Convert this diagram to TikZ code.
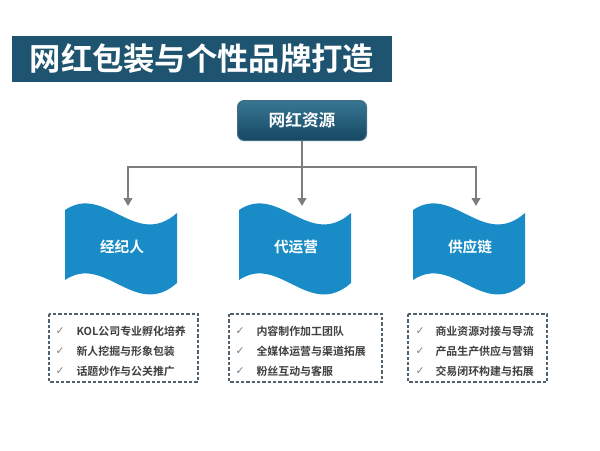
\documentclass[tikz,border=0pt]{standalone}
\usepackage{fontspec}
\setmainfont{Noto Sans CJK SC}[BoldFont={Noto Sans CJK SC Bold}]
\newfontfamily\symfont{DejaVu Sans}
\usetikzlibrary{arrows.meta}

\definecolor{titleblue}{RGB}{31,84,112}
\definecolor{srctop}{RGB}{56,118,146}
\definecolor{srcbot}{RGB}{22,72,100}
\definecolor{wavefill}{RGB}{25,140,199}
\definecolor{linkgray}{RGB}{125,125,125}
\definecolor{boxline}{RGB}{80,98,112}
\definecolor{itemtext}{RGB}{64,64,64}

\tikzset{every picture/.style={line width=0.75pt}}
\tikzset{
  link/.style={draw=linkgray, line width=1.7pt},
  wavetext/.style={text=white, font=\bfseries\fontsize{11}{13}\selectfont, inner sep=0.75pt},
  itembox/.style={draw=boxline, line width=1pt, dash pattern=on 2.5pt off 1.5pt},
  item/.style={anchor=west, inner sep=0.75pt, text=itemtext, font=\bfseries\fontsize{8.2}{10}\selectfont},
  tick/.style={anchor=center, inner sep=0pt, text=linkgray, font=\symfont\fontsize{8}{10}\selectfont}
}

\begin{document}
\begin{tikzpicture}[x=0.75pt,y=0.75pt,yscale=-1,xscale=1]
\useasboundingbox (0,0) rectangle (600,450);
\fill[white] (0,0) rectangle (600,450);
%Shape: Rectangle [id:title]
\fill[titleblue] (12,36) rectangle (392,82);
% Text Node
\draw (202,59) node (title) [inner sep=0.75pt, text=white] {\bfseries\fontsize{23.5}{27}\selectfont 网红包装与个性品牌打造};

%Shape: Rounded Rect [id:src]
\draw (237,100) node (src) [anchor=north west, minimum width=129*0.75pt, minimum height=40*0.75pt, rounded corners=5pt, top color=srctop, bottom color=srcbot, draw=srcbot!80!white, text=white] {};
\draw (src.center) node (srctxt) [inner sep=0.75pt, text=white] {\bfseries\fontsize{12.5}{15}\selectfont 网红资源};

%Shape: Wave [id:w1]
\fill[wavefill] (65,210) .. controls (105,183) and (135,250) .. (177,213) -- (177,283) .. controls (135,320) and (105,253) .. (65,280) -- cycle ;
%Shape: Wave [id:w2]
\fill[wavefill] (239,210) .. controls (279,183) and (309,250) .. (351,213) -- (351,283) .. controls (309,320) and (279,253) .. (239,280) -- cycle ;
%Shape: Wave [id:w3]
\fill[wavefill] (413,210) .. controls (453,183) and (483,250) .. (525,213) -- (525,283) .. controls (483,320) and (453,253) .. (413,280) -- cycle ;

% Text Node
\draw (122,247) node (agent) [wavetext] {经纪人};
% Text Node
\draw (296,247) node (ops) [wavetext] {代运营};
% Text Node
\draw (470,247) node (supply) [wavetext] {供应链};

%Connectors
\coordinate (split) at (302,167);
\coordinate (in1) at (128,206);
\coordinate (in2) at (302,206);
\coordinate (in3) at (476,206);
\draw [link] (src.south) -- (split);
\draw [link, -{Triangle[length=6pt, width=6.5pt]}] (split) -| (in1);
\draw [link, -{Triangle[length=6pt, width=6.5pt]}] (split) -- (in2);
\draw [link, -{Triangle[length=6pt, width=6.5pt]}] (split) -| (in3);

%Shape: Dashed Box [id:b1]
\draw [itembox] (49,314) rectangle (198,382);
\draw (60,331) node (t11) [tick] {✓};
\draw (75,331) node (b1a) [item] {KOL公司专业孵化培养};
\draw (60,351) node (t12) [tick] {✓};
\draw (75,351) node (b1b) [item] {新人挖掘与形象包装};
\draw (60,371) node (t13) [tick] {✓};
\draw (75,371) node (b1c) [item] {话题炒作与公关推广};

%Shape: Dashed Box [id:b2]
\draw [itembox] (229,314) rectangle (382,382);
\draw (240,331) node (t21) [tick] {✓};
\draw (255,331) node (b2a) [item] {内容制作加工团队};
\draw (240,351) node (t22) [tick] {✓};
\draw (255,351) node (b2b) [item] {全媒体运营与渠道拓展};
\draw (240,371) node (t23) [tick] {✓};
\draw (255,371) node (b2c) [item] {粉丝互动与客服};

%Shape: Dashed Box [id:b3]
\draw [itembox] (408,314) rectangle (547,382);
\draw (420,331) node (t31) [tick] {✓};
\draw (434,331) node (b3a) [item] {商业资源对接与导流};
\draw (420,351) node (t32) [tick] {✓};
\draw (434,351) node (b3b) [item] {产品生产供应与营销};
\draw (420,371) node (t33) [tick] {✓};
\draw (434,371) node (b3c) [item] {交易闭环构建与拓展};

\end{tikzpicture}
\end{document}
